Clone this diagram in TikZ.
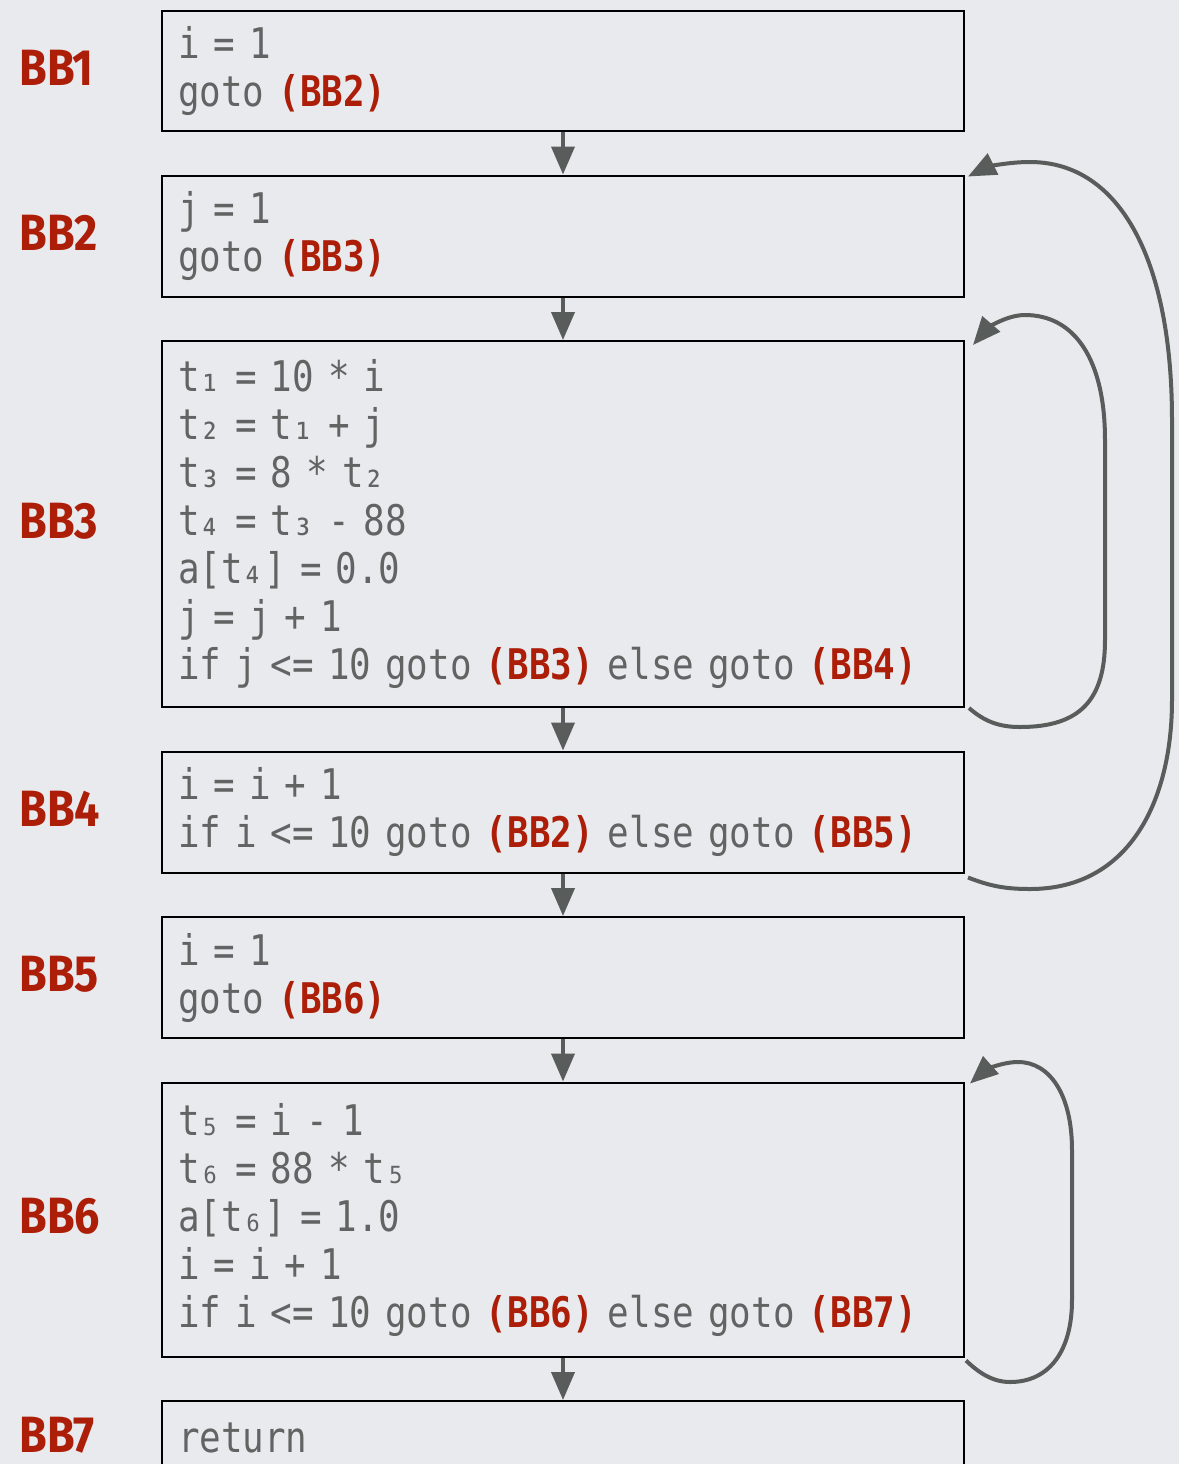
\documentclass[tikz,border=0pt]{standalone}
\usepackage{fontspec}
\usetikzlibrary{positioning,arrows.meta,calc}
\newfontfamily\codefont[FakeStretch=0.85]{DejaVu Sans Mono}
\newfontfamily\labelfont[FakeStretch=0.88]{Fira Sans}
\definecolor{bbred}{RGB}{172,30,8}
\definecolor{codegray}{RGB}{98,100,100}
\definecolor{edgegray}{RGB}{88,92,90}
\definecolor{paper}{RGB}{232,234,237}
\newcommand{\jmp}[1]{{\bfseries\color{bbred}(#1)}}
% one full cell per space
\newcommand{\cellspace}{\setbox0\hbox{x}\spaceskip=\wd0\relax}

\begin{document}
\begin{tikzpicture}[x=0.5pt,y=-0.5pt,
    block/.style={draw=black, line width=1pt, rectangle, anchor=north,
      minimum width=401pt, text width=385pt, inner xsep=8pt, inner ysep=0pt,
      align=left, text=codegray,
      font=\codefont\fontsize{21.1}{24}\selectfont\cellspace},
    bblabel/.style={anchor=west, inner sep=0pt, yshift=1.5pt, text=bbred,
      font=\labelfont\bfseries\fontsize{25.5}{26}\selectfont},
    flow/.style={draw=edgegray, line width=2pt, -{Triangle[length=14pt,width=11.5pt]}},
    node distance=21.25pt]
    \path[use as bounding box, fill=paper] (0,0) rectangle (1179,1464);
    \clip (0,0) rectangle (1179,1464);
    \coordinate (lblx) at (19,0);

    \node[block, minimum height=60pt] (b1) at (563,10) {i = 1\\goto \jmp{BB2}};
    \node[block, minimum height=60.5pt, below=of b1] (b2) {j = 1\\goto \jmp{BB3}};
    \node[block, minimum height=183pt, below=of b2] (b3) {t₁ = 10 * i\\t₂ = t₁ + j\\t₃ = 8 * t₂\\t₄ = t₃ - 88\\a[t₄] = 0.0\\j = j + 1\\if j <= 10 goto \jmp{BB3} else goto \jmp{BB4}};
    \node[block, minimum height=60.5pt, below=of b3] (b4) {i = i + 1\\if i <= 10 goto \jmp{BB2} else goto \jmp{BB5}};
    \node[block, minimum height=60.5pt, below=of b4] (b5) {i = 1\\goto \jmp{BB6}};
    \node[block, minimum height=137pt, below=of b5] (b6) {t₅ = i - 1\\t₆ = 88 * t₅\\a[t₆] = 1.0\\i = i + 1\\if i <= 10 goto \jmp{BB6} else goto \jmp{BB7}};
    \node[block, minimum height=37pt, below=of b6] (b7) {return};

    \foreach \i in {1,...,7}
        \node[bblabel] (l\i) at (b\i.west -| lblx) {BB\i};

    \draw[flow] (b1.south) -- (b2.north);
    \draw[flow] (b2.south) -- (b3.north);
    \draw[flow] (b3.south) -- (b4.north);
    \draw[flow] (b4.south) -- (b5.north);
    \draw[flow] (b5.south) -- (b6.north);
    \draw[flow] (b6.south) -- (b7.north);

    \draw[flow] ($(b3.south east)+(4,0)$) .. controls (985,722) and (1000,727) .. (1020,727)
        .. controls (1080,727) and (1105,700) .. (1105,640) -- (1105,440)
        .. controls (1105,360) and (1075,315) .. (1025,315)
        .. controls (1005,315) and (986,330) .. ($(b3.north east)+(8,5)$);
    \draw[flow] ($(b4.south east)+(3,4)$) .. controls (990,886) and (1005,889) .. (1030,889)
        .. controls (1130,889) and (1172,800) .. (1172,700) -- (1172,420)
        .. controls (1172,260) and (1120,162) .. (1030,162)
        .. controls (1005,162) and (985,168) .. ($(b2.north east)+(3,2)$);
    \draw[flow] ($(b6.south east)+(1,3)$) .. controls (978,1372) and (992,1382) .. (1010,1382)
        .. controls (1050,1382) and (1072,1350) .. (1072,1300) -- (1072,1150)
        .. controls (1072,1095) and (1050,1062) .. (1018,1062)
        .. controls (1000,1062) and (983,1072) .. ($(b6.north east)+(5,2)$);
\end{tikzpicture}
\end{document}
